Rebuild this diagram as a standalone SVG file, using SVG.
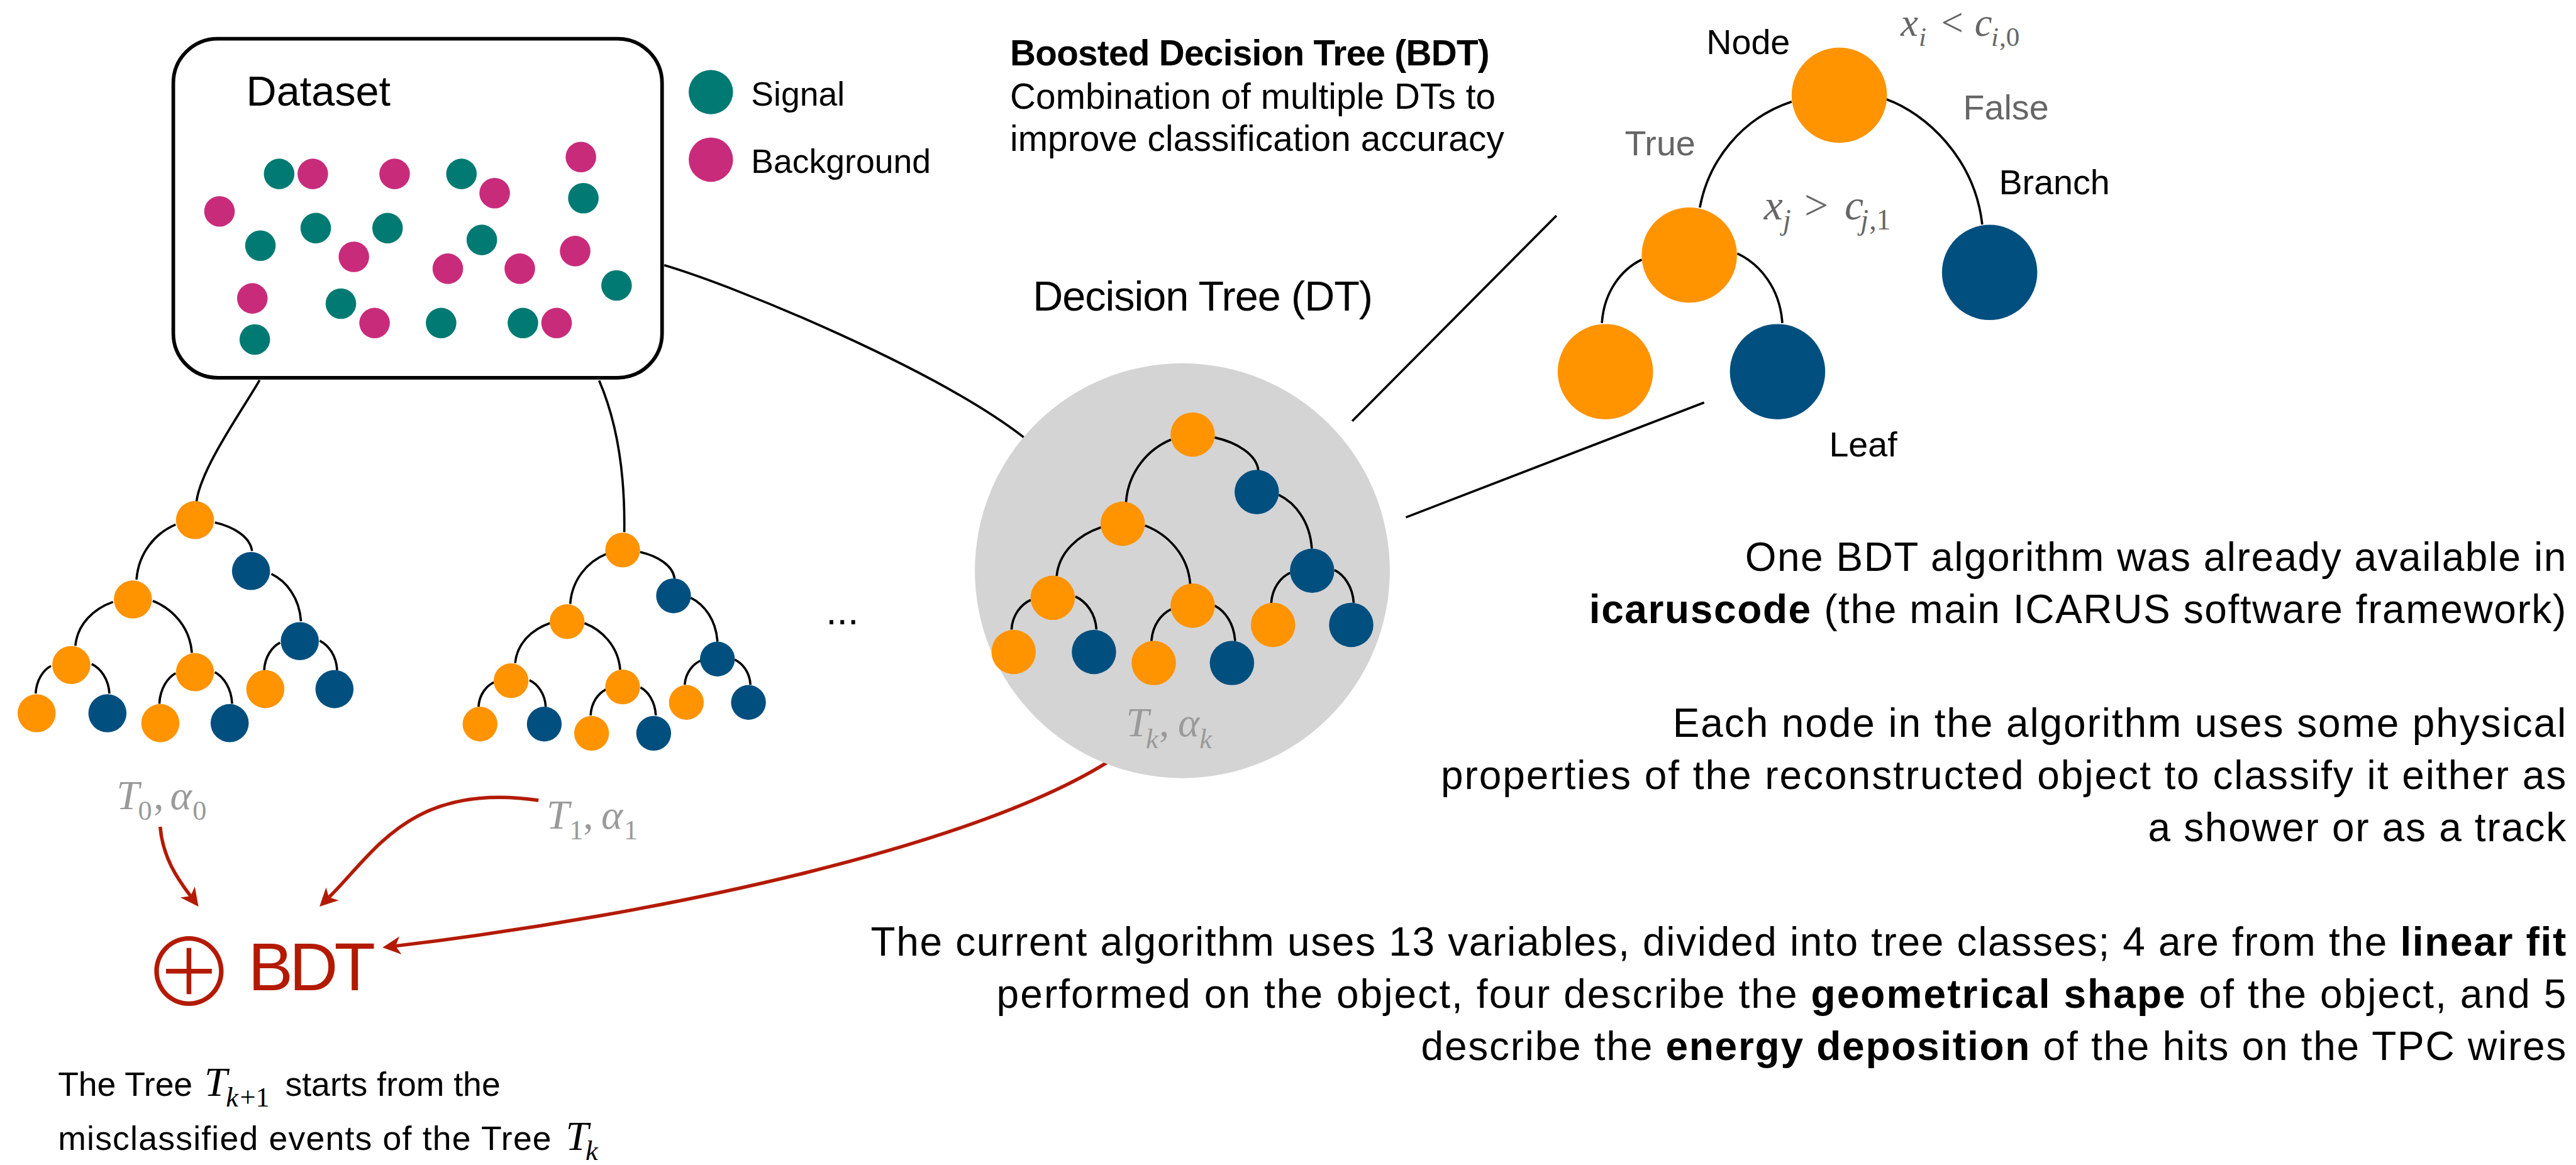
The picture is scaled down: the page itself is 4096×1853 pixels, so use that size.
<svg xmlns="http://www.w3.org/2000/svg" width="4096" height="1853" viewBox="0 0 4096 1853">
  <defs>
    <style>
      .o { fill: #FF9300; }
      .b { fill: #014F7F; }
      .sig { fill: #007A72; }
      .bkg { fill: #C92B7B; }
      .edge { fill: none; stroke: #000; stroke-width: 1.4; }
      .link { fill: none; stroke: #000; stroke-width: 1.4; }
      .red { fill: none; stroke: #B31A00; stroke-width: 2.1; marker-end: url(#ah); }
      .t { font-family: "Liberation Sans", Arial, Helvetica, sans-serif; fill: #000; }
      .m { font-family: "Liberation Serif", "Times New Roman", serif; font-style: italic; }
      .up { font-style: normal; }
      .g6 { fill: #666; }
      .g9 { fill: #9A9A9A; }
      .bold { font-weight: bold; }
    </style>
    <marker id="ah" viewBox="0 -6 12 12" refX="3" refY="0" markerWidth="12" markerHeight="12" orient="auto" markerUnits="userSpaceOnUse">
      <path d="M0,-5.5 L11,0 L0,5.5 L3,0 Z" fill="#B31A00"/>
    </marker>
  </defs>
  <rect width="4096" height="1853" fill="#fff"/>
  <g transform="scale(2.6122)">

    <!-- connectors -->
    <g id="connectors">
      <path class="link" d="M158,231.5 C150,246 122,285 119.6,305.5"/>
      <path class="link" d="M364.7,231.7 C376,258 380.5,290 380,324"/>
      <path class="link" d="M404.3,161.5 C450,175 570,225 623.2,266.3"/>
      <line class="link" x1="823.1" y1="256.4" x2="947.4" y2="131.3"/>
      <line class="link" x1="855.8" y1="315" x2="1037.3" y2="245.1"/>
      <path class="red" d="M97.5,503.4 C99,522 108,535 116,545.6"/>
      <path class="red" d="M327.8,487.3 C250,476 228,519 200.2,546.4"/>
      <path class="red" d="M681.2,459.5 C600,515 400,557 240.8,576"/>
    </g>

    <!-- dataset box with sample points -->
    <g id="node-dataset">
      <rect x="105.5" y="23.6" width="297.5" height="206.4" rx="27" ry="27" fill="#fff" stroke="#000" stroke-width="2.2"/>
      <text class="t" x="149.9" y="64.5" font-size="25.5">Dataset</text>
      <g id="dataset-points">
        <circle class="sig" cx="169.9" cy="105.9" r="9.3"/>
        <circle class="bkg" cx="190.4" cy="105.9" r="9.3"/>
        <circle class="bkg" cx="240.2" cy="105.9" r="9.3"/>
        <circle class="sig" cx="280.9" cy="105.9" r="9.3"/>
        <circle class="bkg" cx="301.1" cy="117.6" r="9.3"/>
        <circle class="bkg" cx="353.6" cy="95.6" r="9.3"/>
        <circle class="sig" cx="355.1" cy="120.7" r="9.3"/>
        <circle class="bkg" cx="133.6" cy="128.7" r="9.3"/>
        <circle class="sig" cx="158.5" cy="149.6" r="9.3"/>
        <circle class="sig" cx="192.2" cy="138.9" r="9.3"/>
        <circle class="sig" cx="235.9" cy="138.9" r="9.3"/>
        <circle class="bkg" cx="215.4" cy="156.4" r="9.3"/>
        <circle class="sig" cx="293.3" cy="146.1" r="9.3"/>
        <circle class="bkg" cx="272.6" cy="163.6" r="9.3"/>
        <circle class="bkg" cx="316.4" cy="163.6" r="9.3"/>
        <circle class="bkg" cx="350.1" cy="152.9" r="9.3"/>
        <circle class="sig" cx="375.3" cy="173.8" r="9.3"/>
        <circle class="bkg" cx="153.6" cy="181.7" r="9.3"/>
        <circle class="sig" cx="207.5" cy="184.9" r="9.3"/>
        <circle class="bkg" cx="228.0" cy="196.7" r="9.3"/>
        <circle class="sig" cx="268.5" cy="196.7" r="9.3"/>
        <circle class="sig" cx="318.3" cy="196.7" r="9.3"/>
        <circle class="bkg" cx="338.8" cy="196.7" r="9.3"/>
        <circle class="sig" cx="155.1" cy="206.7" r="9.3"/>
      </g>
    </g>

    <!-- legend -->
    <g id="node-legend">
      <circle class="sig" cx="432.7" cy="56.1" r="13.5"/>
      <circle class="bkg" cx="432.7" cy="97.2" r="13.5"/>
      <text class="t" x="457.2" y="64.2" font-size="20.5">Signal</text>
      <text class="t" x="457.2" y="105.3" font-size="20.5">Background</text>
    </g>

    <!-- BDT description -->
    <g id="node-bdt-title">
      <text class="t bold" x="614.8" y="39.8" font-size="21.7" textLength="292">Boosted Decision Tree (BDT)</text>
      <text class="t" x="614.8" y="66.1" font-size="21.7" textLength="295.6">Combination of multiple DTs to</text>
      <text class="t" x="614.8" y="91.9" font-size="21.7" textLength="300.8">improve classification accuracy</text>
    </g>

    <!-- tree T0 -->
    <g id="node-tree0">
      <path class="edge" d="M106.9,319.4 C95,324.4 84.3,336.15 83.1,352.9"/>
      <path class="edge" d="M130.8,318.1 C142.1,320.7 152.3,326.8 153.4,335.5"/>
      <path class="edge" d="M165.2,349.5 C174.2,353.8 182.3,363.9 183.2,378.3"/>
      <path class="edge" d="M68.8,366.5 C57.35,370.5 47.05,379.85 45.9,393.2"/>
      <path class="edge" d="M93,365.9 C104.9,370.6 115.6,381.7 116.8,397.5"/>
      <path class="edge" d="M31,405.5 C26.35,408 22.2,413.9 21.7,422.3"/>
      <path class="edge" d="M55.8,404.3 C61.2,407 66.1,413.3 66.6,422.3"/>
      <path class="edge" d="M106.9,409.9 C101.95,412.7 97.5,419.2 97,428.5"/>
      <path class="edge" d="M130.8,409.3 C136.05,412.2 140.8,418.9 141.3,428.5"/>
      <path class="edge" d="M170.5,391.3 C165.65,393.8 161.3,399.65 160.8,408"/>
      <path class="edge" d="M194.6,390.1 C199.9,392.8 204.7,399.05 205.2,408"/>
      <circle class="o" cx="118.7" cy="316.7" r="11.6"/>
      <circle class="b" cx="152.8" cy="347.7" r="11.6"/>
      <circle class="o" cx="80.9" cy="365" r="11.6"/>
      <circle class="b" cx="182.5" cy="390.4" r="11.6"/>
      <circle class="o" cx="43.4" cy="404.9" r="11.6"/>
      <circle class="o" cx="118.7" cy="409.3" r="11.6"/>
      <circle class="o" cx="161.5" cy="419.6" r="11.6"/>
      <circle class="b" cx="203.6" cy="419.6" r="11.6"/>
      <circle class="o" cx="22.3" cy="434.3" r="11.6"/>
      <circle class="b" cx="65.4" cy="434.3" r="11.6"/>
      <circle class="o" cx="97.6" cy="440.3" r="11.6"/>
      <circle class="b" cx="139.8" cy="440.3" r="11.6"/>
      <text class="m g9" font-size="25"><tspan x="70.9" y="492.8">T</tspan><tspan class="up" x="84" y="499.2" font-size="17">0</tspan><tspan class="up" x="93.5" y="492.8">,</tspan><tspan x="103.6" y="492.8">α</tspan><tspan class="up" x="117.2" y="499.2" font-size="17">0</tspan></text>
    </g>

    <!-- tree T1 -->
    <g id="node-tree1">
      <path class="edge" d="M368.8,337.4 C357.95,341.9 348.2,352.55 347.1,367.7"/>
      <path class="edge" d="M389.6,336.1 C400.1,338.5 409.55,344.15 410.6,352.2"/>
      <path class="edge" d="M420.5,364 C428.6,368 435.9,377.35 436.7,390.7"/>
      <path class="edge" d="M334.7,379.5 C324.15,383.1 314.65,391.6 313.6,403.7"/>
      <path class="edge" d="M355.8,379.5 C366.65,383.7 376.4,393.65 377.5,407.8"/>
      <path class="edge" d="M300.6,415.5 C295.95,417.7 291.75,422.9 291.3,430.3"/>
      <path class="edge" d="M322.3,414.2 C327.25,416.6 331.7,422.25 332.2,430.3"/>
      <path class="edge" d="M368.8,419.8 C364.15,422.2 359.95,427.7 359.5,435.6"/>
      <path class="edge" d="M389.9,418.6 C394.55,421.15 398.75,427.1 399.2,435.6"/>
      <path class="edge" d="M426.8,402.1 C421.8,404.3 417.3,409.5 416.8,416.9"/>
      <path class="edge" d="M447.2,401.6 C452,403.9 456.3,409.25 456.8,416.9"/>
      <circle class="o" cx="379.0" cy="334.9" r="10.6"/>
      <circle class="b" cx="410.0" cy="362.8" r="10.6"/>
      <circle class="o" cx="345.2" cy="378.5" r="10.6"/>
      <circle class="b" cx="436.7" cy="401.3" r="10.6"/>
      <circle class="o" cx="311.1" cy="414.5" r="10.6"/>
      <circle class="o" cx="379.0" cy="418.3" r="10.6"/>
      <circle class="o" cx="417.8" cy="427.7" r="10.6"/>
      <circle class="b" cx="455.6" cy="427.7" r="10.6"/>
      <circle class="o" cx="292.2" cy="440.9" r="10.6"/>
      <circle class="b" cx="331.3" cy="440.9" r="10.6"/>
      <circle class="o" cx="360.1" cy="446.5" r="10.6"/>
      <circle class="b" cx="397.9" cy="446.5" r="10.6"/>
      <text class="m g9" font-size="25"><tspan x="332.7" y="504.7">T</tspan><tspan class="up" x="346.5" y="511.2" font-size="17">1</tspan><tspan class="up" x="355" y="504.7">,</tspan><tspan x="366" y="504.7">α</tspan><tspan class="up" x="379.8" y="511.2" font-size="17">1</tspan></text>
    </g>

    <text class="t" x="512.7" y="380" font-size="24" text-anchor="middle">...</text>

    <!-- decision tree Tk -->
    <g id="node-dt">
      <text class="t" x="628.7" y="189.2" font-size="25.5" textLength="207">Decision Tree (DT)</text>
      <circle cx="719.7" cy="347.5" r="126.3" fill="#D4D4D4"/>
      <path class="edge" d="M712.8,267.7 C699.1,273.4 686.8,286.8 685.4,305.9"/>
      <path class="edge" d="M739.4,266.4 C752.7,269.4 764.7,276.4 766.0,286.4"/>
      <path class="edge" d="M670.2,321.1 C656.7,325.6 644.55,336 643.2,350.8"/>
      <path class="edge" d="M697.0,320.0 C710.75,325.3 723.1,337.8 724.5,355.6"/>
      <path class="edge" d="M778.4,301.3 C788.5,306.2 797.5,317.7 798.5,334.1"/>
      <path class="edge" d="M627.4,365.3 C621.55,368 616.3,374.3 615.7,383.3"/>
      <path class="edge" d="M654.6,363.2 C661,366.2 666.8,373.25 667.4,383.3"/>
      <path class="edge" d="M712.8,371.0 C706.85,373.9 701.5,380.65 700.9,390.3"/>
      <path class="edge" d="M739.4,368.8 C745.6,372 751.2,379.55 751.8,390.3"/>
      <path class="edge" d="M785.3,348.8 C779.55,351.5 774.4,357.95 773.8,367.1"/>
      <path class="edge" d="M812.3,347.1 C818.15,350.1 823.4,357.1 824.0,367.1"/>
      <circle class="o" cx="726.0" cy="264.6" r="13.5"/>
      <circle class="b" cx="765.0" cy="299.6" r="13.5"/>
      <circle class="o" cx="683.4" cy="318.9" r="13.5"/>
      <circle class="b" cx="798.7" cy="347.5" r="13.5"/>
      <circle class="o" cx="640.8" cy="364.0" r="13.5"/>
      <circle class="o" cx="726.0" cy="368.8" r="13.5"/>
      <circle class="o" cx="774.9" cy="380.5" r="13.5"/>
      <circle class="b" cx="822.5" cy="380.5" r="13.5"/>
      <circle class="o" cx="617.0" cy="397.0" r="13.5"/>
      <circle class="b" cx="665.9" cy="397.0" r="13.5"/>
      <circle class="o" cx="702.3" cy="403.7" r="13.5"/>
      <circle class="b" cx="749.9" cy="403.7" r="13.5"/>
      <text class="m g9" font-size="25"><tspan x="685.4" y="448.4">T</tspan><tspan x="697.5" y="455.6" font-size="17">k</tspan><tspan class="up" x="705.5" y="448.4">,</tspan><tspan x="717" y="448.4">α</tspan><tspan x="730.1" y="455.6" font-size="17">k</tspan></text>
    </g>

    <!-- detailed tree -->
    <g id="node-tree-detail">
      <path class="edge" d="M1090.6,61.9 C1060,72 1040,98 1034.7,126.4"/>
      <path class="edge" d="M1148.3,60.5 C1172,69 1202,96 1206.6,136.7"/>
      <path class="edge" d="M999.3,158.1 C987.2,163.9 976.3,177.4 975.1,196.7"/>
      <path class="edge" d="M1057.5,154.3 C1071.2,160.7 1083.5,175.5 1084.9,196.7"/>
      <circle class="o" cx="1119.6" cy="58.0" r="29"/>
      <circle class="o" cx="1028.3" cy="155.3" r="29"/>
      <circle class="b" cx="1211.1" cy="165.9" r="29"/>
      <circle class="o" cx="977.2" cy="226.3" r="29"/>
      <circle class="b" cx="1082.0" cy="226.3" r="29"/>
      <text class="t" x="1038.7" y="33.1" font-size="21.3">Node</text>
      <text class="t g6" x="989" y="94.5" font-size="21.3">True</text>
      <text class="t g6" x="1195" y="72.9" font-size="21.3">False</text>
      <text class="t" x="1216.8" y="118.3" font-size="21.3">Branch</text>
      <text class="t" x="1113.4" y="278" font-size="21.3">Leaf</text>
      <text class="m g6" font-size="24"><tspan x="1157" y="22">x</tspan><tspan x="1168" y="28" font-size="16.5">i</tspan><tspan class="up" x="1181.6" y="22">&lt;</tspan><tspan x="1202" y="22">c</tspan><tspan x="1212" y="28" font-size="16.5">i</tspan><tspan class="up" x="1217" y="28" font-size="16.5">,0</tspan></text>
      <text class="m g6" font-size="26"><tspan x="1073.7" y="133.5">x</tspan><tspan x="1085.3" y="139.8" font-size="17.5">j</tspan><tspan class="up" x="1098.3" y="133.5">&gt;</tspan><tspan x="1122.8" y="133.5">c</tspan><tspan x="1132.5" y="139.8" font-size="17.5">j</tspan><tspan class="up" x="1137.8" y="139.8" font-size="17.5">,1</tspan></text>
    </g>

    <!-- combined classifier -->
    <g id="node-bdt">
      <text x="115" y="613" font-family="'Noto Sans CJK SC', 'DejaVu Sans', sans-serif" font-weight="300" font-size="57" text-anchor="middle" fill="#B31A00">⊕</text>
      <text class="t" x="151" y="603" font-size="41" textLength="77.5" style="fill:#B31A00">BDT</text>
    </g>

    <!-- boosting note -->
    <g id="node-note">
      <text class="t" x="35.3" y="667.3" font-size="20.5"><tspan textLength="81.9">The Tree</tspan><tspan class="m" x="124.4" y="667.3" font-size="25">T</tspan><tspan class="m" x="137.5" y="673.7" font-size="17">k</tspan><tspan x="146" y="673.7" font-size="17" font-family="Liberation Serif, serif">+1</tspan><tspan x="173.6" y="667.3">starts from the</tspan></text>
      <text class="t" x="35.3" y="700" font-size="20.5"><tspan textLength="300.3">misclassified events of the Tree</tspan><tspan class="m" x="344.3" y="700" font-size="25">T</tspan><tspan class="m" x="356.4" y="706.3" font-size="17">k</tspan></text>
    </g>

    <!-- explanatory paragraphs -->
    <g id="node-notes-right">
      <text class="t" x="1562" y="347.5" text-anchor="end" textLength="499.8" font-size="24.5">One BDT algorithm was already available in</text>
      <text class="t" x="1562" y="379.4" text-anchor="end" textLength="594.7" font-size="24.5"><tspan class="bold">icaruscode</tspan> (the main ICARUS software framework)</text>
      <text class="t" x="1562" y="448.8" text-anchor="end" textLength="543.8" font-size="24.5">Each node in the algorithm uses some physical</text>
      <text class="t" x="1562" y="480.6" text-anchor="end" textLength="685" font-size="24.5">properties of the reconstructed object to classify it either as</text>
      <text class="t" x="1562" y="512.4" text-anchor="end" textLength="254.5" font-size="24.5">a shower or as a track</text>
      <text class="t" x="1562" y="581.7" text-anchor="end" textLength="1032" font-size="24.5">The current algorithm uses 13 variables, divided into tree classes; 4 are from the <tspan class="bold">linear fit</tspan></text>
      <text class="t" x="1562" y="613.5" text-anchor="end" textLength="955.4" font-size="24.5">performed on the object, four describe the <tspan class="bold">geometrical shape</tspan> of the object, and 5</text>
      <text class="t" x="1562" y="645.3" text-anchor="end" textLength="697" font-size="24.5">describe the <tspan class="bold">energy deposition</tspan> of the hits on the TPC wires</text>
    </g>
  </g>
</svg>
